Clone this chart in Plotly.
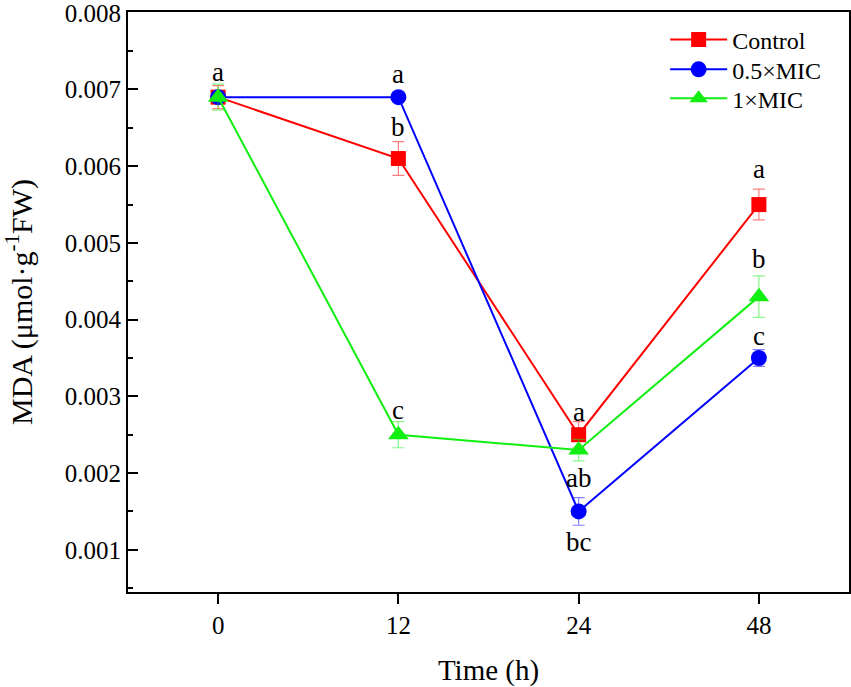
import plotly.graph_objects as go

times = ["0", "12", "24", "48"]
series_names = ["Control", "0.5×MIC", "1×MIC"]
control = [0.0069, 0.0061, 0.0025, 0.0055]
control_err = [0.00015, 0.00022, 0.00017, 0.0002]
mic05 = [0.0069, 0.0069, 0.0015, 0.0035]
mic05_err = [0.00005, 0.00002, 0.00018, 0.00011]
mic1 = [0.0069, 0.0025, 0.0023, 0.0043]
mic1_err = [0.00017, 0.00017, 0.00014, 0.00027]

control_letters = ["", "b", "a", "a"]
mic05_letters = ["", "a", "bc", "c"]
mic1_letters = ["a", "c", "ab", "b"]

# label pixel offsets (style)
control_shift = [0, 32, 23, 36]
mic05_shift = [0, 23, -31, 22]
mic1_shift = [25, 25, -28, 38]

FONT = "Liberation Serif"
colors = ["#FF0000", "#0000FF", "#11EE11"]
err_colors = ["rgba(255,0,0,0.5)", "rgba(0,0,255,0.5)", "rgba(17,238,17,0.5)"]
symbols = ["square", "circle", "triangle-up"]
sizes = [15, 16, 18]
legend_ids = ["legend", "legend2", "legend3"]
legend_y = [0.952, 0.9005, 0.8505]

fig = go.Figure()
for name, vals, errs, c, ec, sym, sz, lg in zip(series_names, [control, mic05, mic1],
                                                [control_err, mic05_err, mic1_err],
                                                colors, err_colors, symbols, sizes, legend_ids):
    fig.add_trace(go.Scatter(
        x=times, y=vals, name=name, mode="lines+markers",
        line=dict(color=c, width=2),
        marker=dict(symbol=sym, size=sz, color=c),
        error_y=dict(type="data", array=errs, visible=True, color=ec, thickness=1.2, width=6),
        legend=lg,
    ))

for vals, letters, shifts in zip([control, mic05, mic1],
                                 [control_letters, mic05_letters, mic1_letters],
                                 [control_shift, mic05_shift, mic1_shift]):
    for i, (v, l, s) in enumerate(zip(vals, letters, shifts)):
        if l:
            fig.add_annotation(x=i, y=v, xref="x", yref="y", text=l, showarrow=False, yshift=s,
                               font=dict(family=FONT, size=27, color="black"))

legend_style = dict(x=0.745, xanchor="left", yanchor="middle",
                    font=dict(family=FONT, size=24), bgcolor="rgba(0,0,0,0)",
                    itemwidth=57)

fig.update_layout(
    width=851, height=687,
    margin=dict(l=128, r=2, t=12, b=95),
    paper_bgcolor="white", plot_bgcolor="white",
    font=dict(family=FONT, color="black"),
    showlegend=True,
    legend=dict(y=legend_y[0], **legend_style),
    legend2=dict(y=legend_y[1], **legend_style),
    legend3=dict(y=legend_y[2], **legend_style),
)
fig.update_xaxes(
    type="category", range=[-0.5, 3.5], automargin=False,
    showline=True, linecolor="black", linewidth=2, mirror=True,
    ticks="outside", ticklen=10, tickwidth=2, tickcolor="black",
    tickfont=dict(family=FONT, size=25), showgrid=False, zeroline=False,
    title=dict(text="Time (h)", font=dict(family=FONT, size=29), standoff=22),
)
fig.update_yaxes(
    range=[0.00045, 0.00801], dtick=0.001, tick0=0, tickformat=".3f", automargin=False,
    showline=True, linecolor="black", linewidth=2, mirror=True,
    ticks="inside", ticklen=10, tickwidth=2, tickcolor="black",
    minor=dict(dtick=0.0005, ticks="inside", ticklen=5, tickwidth=2, tickcolor="black"),
    tickfont=dict(family=FONT, size=25), showgrid=False, zeroline=False,
    ticklabeloverflow="allow",
    title=dict(text="MDA (μmol·g<sup>-1</sup>FW)", font=dict(family=FONT, size=30), standoff=27),
)

fig.write_html("out.html", config={"displayModeBar": False},
               post_script="document.body.style.margin='0';")
